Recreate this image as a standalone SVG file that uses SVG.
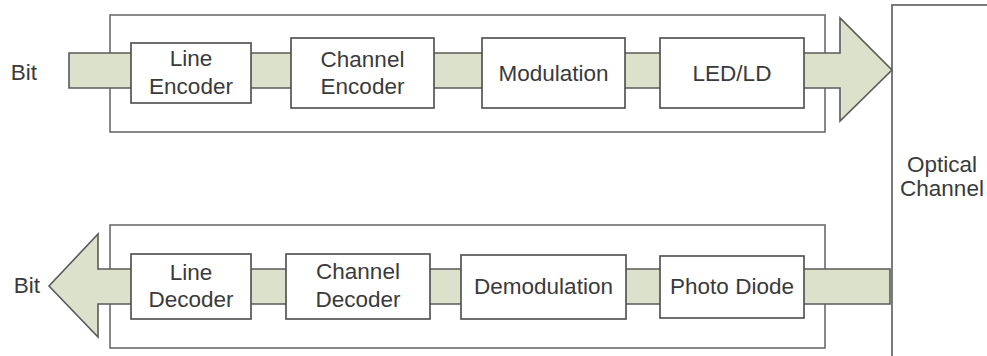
<svg xmlns="http://www.w3.org/2000/svg" width="987" height="356" viewBox="0 0 987 356">
<style>
.outer{fill:none;stroke:#6b6b6b;stroke-width:1.6}
.band{fill:#dce1cb;stroke:#5a5a5a;stroke-width:1.6;stroke-linejoin:miter}
.box{fill:#fff;stroke:#4a4a4a;stroke-width:1.6}
.ch{fill:#fff;stroke:#5a5a5a;stroke-width:1.6}
text{font-family:"Liberation Sans",Arial,sans-serif;font-size:22.5px;fill:#3a3a3a;text-anchor:middle}
</style>
<rect width="987" height="356" fill="#fff"/>
<g id="optical-channel">
<rect class="ch" x="892" y="5" width="120" height="400"/>
<text x="942" y="172">Optical</text>
<text x="942" y="196">Channel</text>
</g>
<g id="tx-frame"><rect class="outer" x="110" y="15" width="715" height="117"/></g>
<g id="rx-frame"><rect class="outer" x="110" y="225" width="715" height="123"/></g>
<g id="connectors">
<polygon class="band" points="69,53 840,53 840,18 892,70 840,121 840,88 69,88"/>
<polygon class="band" points="890,269 98,269 98,234 49,286 98,337 98,304 890,304"/>
</g>
<g id="bit-in"><text x="24" y="80">Bit</text></g>
<g id="bit-out"><text x="27" y="293">Bit</text></g>
<g id="line-encoder">
<rect class="box" x="131" y="43" width="120" height="60"/>
<text x="191" y="66">Line</text>
<text x="191" y="94">Encoder</text>
</g>
<g id="channel-encoder">
<rect class="box" x="291" y="38" width="143" height="70"/>
<text x="362.5" y="67">Channel</text>
<text x="362.5" y="94">Encoder</text>
</g>
<g id="modulation">
<rect class="box" x="482" y="38" width="143" height="70"/>
<text x="553.5" y="81">Modulation</text>
</g>
<g id="led-ld">
<rect class="box" x="660" y="38" width="144" height="70"/>
<text x="732" y="81">LED/LD</text>
</g>
<g id="line-decoder">
<rect class="box" x="131" y="254" width="120" height="65"/>
<text x="191" y="280">Line</text>
<text x="191" y="307">Decoder</text>
</g>
<g id="channel-decoder">
<rect class="box" x="286" y="254" width="144" height="65"/>
<text x="358" y="279">Channel</text>
<text x="358" y="307">Decoder</text>
</g>
<g id="demodulation">
<rect class="box" x="461" y="255" width="165" height="64"/>
<text x="543.5" y="294">Demodulation</text>
</g>
<g id="photo-diode">
<rect class="box" x="660" y="256" width="144" height="62"/>
<text x="732" y="294">Photo Diode</text>
</g>
</svg>
